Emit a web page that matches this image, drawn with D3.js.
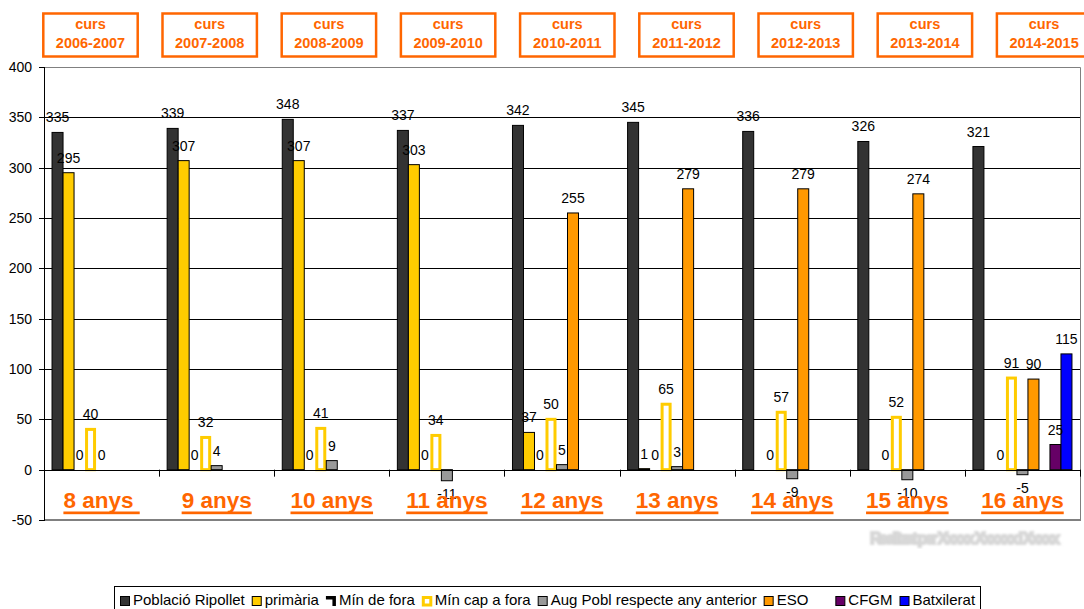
<!DOCTYPE html>
<html>
<head>
<meta charset="utf-8">
<script src="https://cdn.jsdelivr.net/npm/d3@7"></script>
<style>
  body { margin: 0; background: #fff; }
  text { font-family: "Liberation Sans", Arial, sans-serif; }
</style>
</head>
<body>
<script>
var w = 1084;
var h = 609;

// data
var categories = ["8 anys", "9 anys", "10 anys", "11 anys", "12 anys", "13 anys", "14 anys", "15 anys", "16 anys"];
var courses = ["2006-2007", "2007-2008", "2008-2009", "2009-2010", "2010-2011", "2011-2012", "2012-2013", "2013-2014", "2014-2015"];
var seriesNames = ["Població Ripollet", "primària", "Mín de fora", "Mín cap a fora", "Aug Pobl respecte any anterior", "ESO", "", "CFGM", "Batxilerat"];
var poblacio = [335, 339, 348, 337, 342, 345, 336, 326, 321];
var primaria = [295, 307, 307, 303, 37, 1, null, null, null];
var minDeFora = [0, 0, 0, 0, 0, 0, 0, 0, 0];
var minCapAFora = [40, 32, 41, 34, 50, 65, 57, 52, 91];
var augPobl = [0, 4, 9, -11, 5, 3, -9, -10, -5];
var eso = [null, null, null, null, 255, 279, 279, 274, 90];
var buit = [null, null, null, null, null, null, null, null, null];
var cfgm = [null, null, null, null, null, null, null, null, 25];
var batxilerat = [null, null, null, null, null, null, null, null, 115];
var yTicks = [-50, 0, 50, 100, 150, 200, 250, 300, 350, 400];

var values = [poblacio, primaria, minDeFora, minCapAFora, augPobl, eso, buit, cfgm, batxilerat];
var fills = ["#333333", "#FFCC00", "none", "#FFFFFF", "#999999", "#FF9900", "none", "#660066", "#0000FF"];
var strokes = ["#000", "#000", "none", "#FFCC00", "#000", "#000", "none", "#000", "#000"];
var strokeW = [1, 1, 0, 3, 1, 1, 0, 1, 1];

var orange = "#FF6600";

var svg = d3.select("body").append("svg")
    .attr("width", w)
    .attr("height", h);

var pL = 44, pR = 1080, pT = 67, pB = 520;

var y = d3.scaleLinear().domain([-50, 400]).range([pB, pT]);
var x0 = d3.scaleBand().domain(categories).range([pL, pR]).padding(0);
var x1 = d3.scaleBand().domain(d3.range(seriesNames.length))
    .range([0, x0.bandwidth()]).paddingInner(0).paddingOuter(0.73);

// gridlines
svg.append("g").selectAll("line")
    .data(yTicks.filter(function (t) { return t > 0 && t < 400; }))
    .enter().append("line")
    .attr("x1", pL).attr("x2", pR)
    .attr("y1", function (d) { return Math.round(y(d)) + 0.5; })
    .attr("y2", function (d) { return Math.round(y(d)) + 0.5; })
    .attr("stroke", "#000").attr("stroke-width", 1);

// plot border (top, right, bottom)
svg.append("path")
    .attr("d", "M" + pL + "," + (pT + 0.5) + "H" + (pR + 0.5) + "V" + pB + "H" + pL)
    .attr("fill", "none").attr("stroke", "#808080").attr("stroke-width", 1);
svg.append("line")
    .attr("x1", pL).attr("x2", pR + 1)
    .attr("y1", pB).attr("y2", pB)
    .attr("stroke", "#808080").attr("stroke-width", 2);

// bars
var groups = svg.append("g").selectAll("g")
    .data(categories)
    .enter().append("g")
    .attr("transform", function (d) { return "translate(" + x0(d) + ",0)"; });

groups.selectAll("rect")
    .data(function (d, i) {
        return values.map(function (s, k) { return { k: k, v: s[i] }; })
            .filter(function (e) { return e.v !== null && e.v !== 0 && fills[e.k] !== "none"; });
    })
    .enter().append("rect")
    .attr("x", function (d) { return x1(d.k) + (d.k === 3 ? 1.5 : 0); })
    .attr("width", function (d) { return x1.bandwidth() - (d.k === 3 ? 3 : 0); })
    .attr("y", function (d) { return y(Math.max(0, d.v)); })
    .attr("height", function (d) { return Math.abs(y(d.v) - y(0)); })
    .attr("fill", function (d) { return fills[d.k]; })
    .attr("stroke", function (d) { return strokes[d.k]; })
    .attr("stroke-width", function (d) { return strokeW[d.k]; });

// axes
svg.append("line")
    .attr("x1", pL).attr("x2", pR + 1)
    .attr("y1", Math.round(y(0)) + 0.5).attr("y2", Math.round(y(0)) + 0.5)
    .attr("stroke", "#000");
svg.append("g").selectAll("line")
    .data(categories.map(function (c) { return x0(c) + x0.bandwidth(); }))
    .enter().append("line")
    .attr("x1", function (d) { return Math.round(d) + 0.5; })
    .attr("x2", function (d) { return Math.round(d) + 0.5; })
    .attr("y1", y(0)).attr("y2", y(0) + 7)
    .attr("stroke", "#000");

svg.append("line")
    .attr("x1", pL + 0.5).attr("x2", pL + 0.5)
    .attr("y1", pT).attr("y2", pB + 1)
    .attr("stroke", "#000");
var yt = svg.append("g").selectAll("g")
    .data(yTicks).enter().append("g");
yt.append("line")
    .attr("x1", pL - 5).attr("x2", pL)
    .attr("y1", function (d) { return Math.round(y(d)) + 0.5; })
    .attr("y2", function (d) { return Math.round(y(d)) + 0.5; })
    .attr("stroke", "#000");
yt.append("text")
    .attr("x", 32).attr("y", function (d) { return y(d) + 5; })
    .attr("text-anchor", "end")
    .attr("font-size", 14)
    .text(function (d) { return d; });

// data labels
groups.selectAll("text.lbl")
    .data(function (d, i) {
        return values.map(function (s, k) { return { k: k, v: s[i] }; })
            .filter(function (e) { return e.v !== null; });
    })
    .enter().append("text")
    .attr("class", "lbl")
    .attr("x", function (d) { return x1(d.k) + x1.bandwidth() / 2; })
    .attr("y", function (d) { return d.v < 0 ? y(d.v) + 18 : y(d.v) - 10; })
    .attr("text-anchor", "middle")
    .attr("font-size", 14)
    .attr("fill", "#000")
    .text(function (d) { return d.v; });

// category labels (orange, underlined)
var cat = svg.append("g").selectAll("g")
    .data(categories).enter().append("g");
cat.append("text")
    .attr("x", function (d) { return x0(d) + x0.bandwidth() / 2; })
    .attr("y", 508)
    .attr("text-anchor", "middle")
    .attr("font-size", 22.5)
    .attr("font-weight", "bold")
    .attr("fill", orange)
    .style("white-space", "pre")
    .text(function (d, i) { return i === 0 ? d + " " : d; })
    .each(function (d) {
        var len = this.getComputedTextLength();
        var cx = x0(d) + x0.bandwidth() / 2;
        d3.select(this.parentNode).append("rect")
            .attr("x", cx - len / 2).attr("width", len)
            .attr("y", 511.5).attr("height", 2.7)
            .attr("fill", orange);
    });

// course boxes at the top
var xc = d3.scaleBand().domain(courses).range([43.3, 1091.3]).paddingInner(0.208).paddingOuter(0);
var cb = svg.append("g").selectAll("g")
    .data(courses).enter().append("g")
    .attr("transform", function (d) { return "translate(" + xc(d) + ",0)"; });
cb.append("rect")
    .attr("x", 0).attr("y", 13.5)
    .attr("width", xc.bandwidth()).attr("height", 43)
    .attr("fill", "#fff").attr("stroke", orange).attr("stroke-width", 2.5);
cb.append("text")
    .attr("x", xc.bandwidth() / 2).attr("y", 29)
    .attr("text-anchor", "middle").attr("font-size", 14.5).attr("font-weight", "bold")
    .attr("fill", orange).text("curs");
cb.append("text")
    .attr("x", xc.bandwidth() / 2).attr("y", 47.5)
    .attr("text-anchor", "middle").attr("font-size", 14.5).attr("font-weight", "bold")
    .attr("fill", orange).text(function (d) { return d; });

// faded credit under the plot
var defs = svg.append("defs");
defs.append("filter").attr("id", "blur")
    .append("feGaussianBlur").attr("stdDeviation", 0.8);
svg.append("text")
    .attr("x", 965).attr("y", 544)
    .attr("text-anchor", "middle")
    .attr("font-size", 16).attr("font-weight", "bold")
    .attr("fill", "#d4d4d4")
    .attr("stroke", "#d8d8d8").attr("stroke-width", 2)
    .attr("filter", "url(#blur)")
    .attr("textLength", 190)
    .text("Realitzat per Xxxxx Xxxxxx i Xxxxx");

// legend
var lg = svg.append("g");
var lx = 120;
var ly = 596;
seriesNames.forEach(function (name, k) {
    if (k === 2) {
        lg.append("path")
            .attr("d", "M" + lx + "," + ly + "h10v10h-3.5v-6.5h-6.5z")
            .attr("fill", "#000");
    } else if (k === 3) {
        lg.append("rect").attr("x", lx + 1.5).attr("y", ly + 1.5)
            .attr("width", 7.5).attr("height", 7.5)
            .attr("fill", "#fff").attr("stroke", "#FFCC00").attr("stroke-width", 3);
    } else if (fills[k] !== "none") {
        lg.append("rect").attr("x", lx + 0.5).attr("y", ly + 0.5)
            .attr("width", 9).attr("height", 9)
            .attr("fill", fills[k]).attr("stroke", "#000");
    }
    var t = lg.append("text")
        .attr("x", lx + 13).attr("y", 605)
        .attr("font-size", 15)
        .style("white-space", "pre")
        .text(name);
    lx = lx + 13 + t.node().getComputedTextLength() + 7;
});
lg.insert("rect", ":first-child")
    .attr("x", 114.5).attr("y", 586.5)
    .attr("width", 866).attr("height", 40)
    .attr("fill", "#fff").attr("stroke", "#000");
</script>
</body>
</html>
